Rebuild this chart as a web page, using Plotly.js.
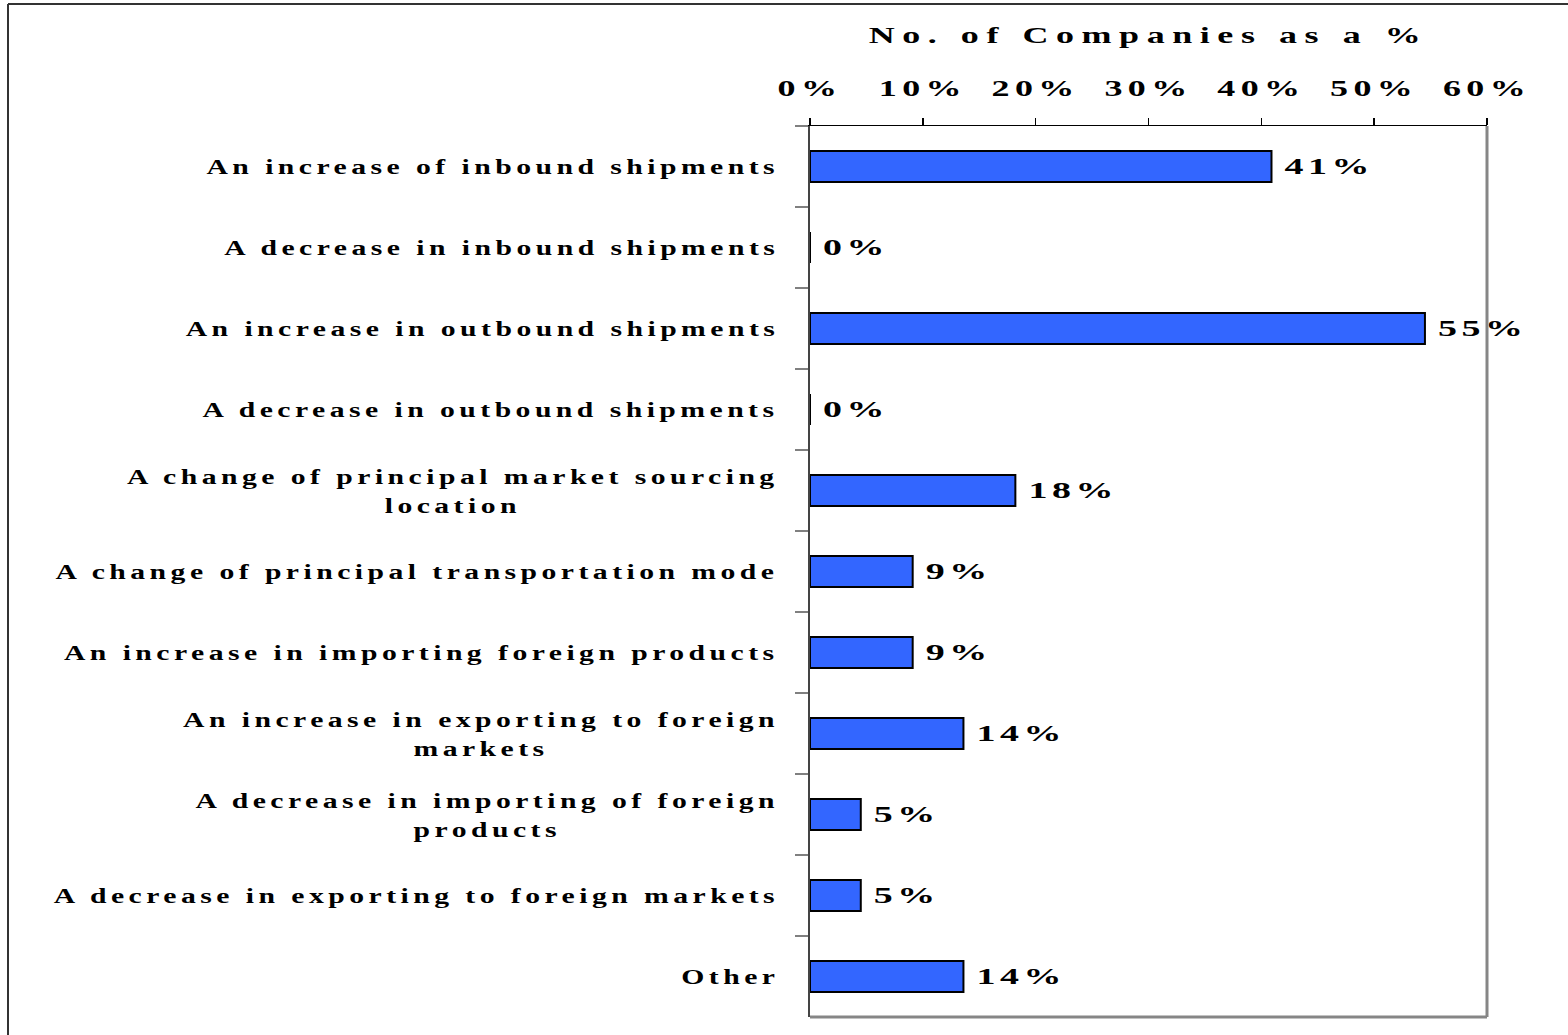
<!DOCTYPE html>
<html><head><meta charset="utf-8">
<script src="https://cdn.plot.ly/plotly-3.0.1.min.js"></script>
<style>
html,body{margin:0;padding:0;background:#fff;}
</style></head>
<body><div id="chart" style="width:1568px;height:1035px;"></div>
<script>
const categories = [
  "An increase of inbound shipments",
  "A decrease in inbound shipments",
  "An increase in outbound shipments",
  "A decrease in outbound shipments",
  "A change of principal market sourcing<br>location",
  "A change of principal transportation mode",
  "An increase in importing foreign products",
  "An increase in exporting to foreign<br>markets",
  "A decrease in importing of foreign<br>products",
  "A decrease in exporting to foreign markets",
  "Other"
];
const values = [40.9, 0, 54.5, 0, 18.2, 9.1, 9.1, 13.6, 4.5, 4.5, 13.6];
const tickVals = [0, 10, 20, 30, 40, 50, 60];
const tickLabels = ["0%", "10%", "20%", "30%", "40%", "50%", "60%"];
const chartTitle = "No. of Companies as a %";

const FONT = "Liberation Serif, Times New Roman, serif";

const trace = {
  type: "bar",
  orientation: "h",
  y: categories,
  x: values,
  marker: {color: "#3366FF", line: {color: "#000000", width: 2}},
  texttemplate: "%{x:.0f}%",
  textposition: "outside",
  constraintext: "none",
  cliponaxis: false,
  textfont: {family: FONT, size: 23, weight: "bold", color: "#000"},
  hoverinfo: "skip"
};

const annotations = categories.map(c => ({
  xref: "paper", yref: "y", x: 0, y: c,
  xanchor: "right", yanchor: "middle", align: "center",
  xshift: -29, showarrow: false, text: c,
  font: {family: FONT, size: 22, weight: "bold", color: "#000"}
}));

const px = (p) => (p - 810) / 677;
const py = (p) => (1017 - p) / 891;

const shapes = [
  {type: "line", xref: "paper", yref: "paper", x0: 1, x1: 1, y0: 0, y1: 1, line: {color: "#868686", width: 3}},
  {type: "line", xref: "paper", yref: "paper", x0: 0, x1: 1, y0: 0, y1: 0, line: {color: "#868686", width: 3}},
  {type: "line", xref: "paper", yref: "paper", x0: px(8), x1: px(1570), y0: py(4), y1: py(4), line: {color: "#333", width: 2}},
  {type: "line", xref: "paper", yref: "paper", x0: px(8), x1: px(8), y0: py(4), y1: py(1040), line: {color: "#333", width: 2}}
];

const layout = {
  width: 1568, height: 1035,
  margin: {l: 810, r: 81, t: 126, b: 18},
  paper_bgcolor: "#fff", plot_bgcolor: "#fff",
  showlegend: false,
  bargap: 0.62,
  title: {
    text: chartTitle, xref: "paper", x: 0.5, xanchor: "center",
    yref: "container", y: 1 - 35/1035, yanchor: "middle",
    font: {family: FONT, size: 24, weight: "bold", color: "#000"}
  },
  xaxis: {
    side: "top", range: [0, 60], tickvals: tickVals, ticktext: tickLabels,
    showgrid: false, zeroline: false,
    showline: true, linecolor: "#000", linewidth: 1.5,
    ticks: "outside", ticklen: 7, tickwidth: 1.5, tickcolor: "#000",
    ticklabelstandoff: 12,
    tickfont: {family: FONT, size: 24, weight: "bold", color: "#000"},
    fixedrange: true
  },
  yaxis: {
    type: "category", range: [10.5, -0.5],
    showticklabels: false, showgrid: false, zeroline: false,
    showline: true, linecolor: "#444", linewidth: 2,
    ticks: "outside", tickson: "boundaries", ticklen: 13, tickwidth: 2, tickcolor: "#808080",
    fixedrange: true
  },
  annotations: annotations,
  shapes: shapes
};

// widen the text the way the original (horizontally stretched) picture shows it
function widen(el, spacingEm, sx, anchor, offset) {
  const b0 = el.getBBox();
  el.style.letterSpacing = spacingEm + "em";
  const b1 = el.getBBox();
  let a0, a1;
  if (anchor === "right") { a0 = b0.x + b0.width; a1 = b1.x + b1.width; }
  else if (anchor === "left") { a0 = b0.x; a1 = b1.x; }
  else { a0 = b0.x + b0.width / 2; a1 = b1.x + b1.width / 2; }
  a0 += (offset || 0);
  const t = el.getAttribute("transform") || "";
  el.setAttribute("transform", t + " translate(" + a0 + ",0) scale(" + sx + ",1) translate(" + (-a1) + ",0)");
}

Plotly.newPlot("chart", [trace], layout, {displayModeBar: false, staticPlot: true}).then(gd => {
  gd.querySelectorAll(".annotation-text").forEach(el => widen(el, 0.15, 1.35, "right", 0));
  gd.querySelectorAll(".xtick text").forEach(el => widen(el, 0.15, 1.5, "middle", 0));
  gd.querySelectorAll(".gtitle").forEach(el => widen(el, 0.21, 1.5, "middle", 0));
  gd.querySelectorAll(".bartext").forEach(el => widen(el, 0.12, 1.65, "left", 10));
});
</script>
</body></html>
